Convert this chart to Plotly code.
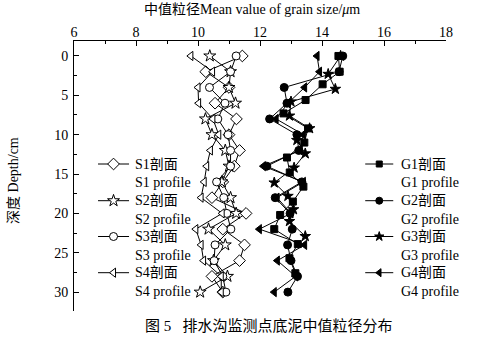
import plotly.graph_objects as go

# ---------------- data ----------------
depth_S = [0, 2, 4, 6, 8, 10, 12, 14, 16, 18, 20, 22, 24, 26, 28, 30]
S1 = [11.43, 10.25, 11.0, 10.55, 11.24, 11.0, 11.34, 11.17, 10.8, 10.45, 11.55, 10.8, 11.5, 11.34, 10.45, 10.8]
S2 = [10.38, 11.05, 11.0, 11.21, 10.24, 10.45, 10.88, 11.0, 10.77, 11.05, 11.23, 10.34, 10.88, 10.5, 10.95, 10.07]
S3 = [11.23, 11.05, 10.37, 10.87, 10.64, 10.97, 11.05, 11.05, 10.6, 10.83, 10.93, 11.06, 10.55, 10.52, 10.8, 10.9]
S4 = [9.77, 10.47, 10.0, 10.02, 10.48, 10.67, 10.4, 10.28, 10.2, 10.1, 10.78, 9.93, 10.1, 10.18, 10.75, 10.75]

depth_G1 = [0, 2, 3.6, 5.6, 7.3, 9.2, 11.0, 12.9, 14.8, 16.6, 18.5, 20.2, 22.0, 23.9, 25.7, 27.6]
G1 = [14.53, 14.57, 14.02, 13.47, 12.76, 13.55, 13.43, 12.87, 12.96, 13.4, 13.06, 12.65, 12.46, 13.22, 12.95, 13.14]
depth_G2 = [0, 2, 4, 6, 8, 10, 12, 14, 16, 18, 20, 22, 24, 26, 28, 30]
G2 = [14.67, 14.55, 12.78, 12.87, 12.31, 13.19, 13.25, 12.22, 13.35, 12.49, 12.97, 13.04, 12.89, 13.0, 13.21, 12.9]
depth_G3 = [0, 2.3, 4.2, 5.8, 7.6, 9.2, 10.7, 12.4, 14.2, 16.1, 17.8, 19.5, 21.0, 22.9]
G3 = [14.6, 14.2, 14.43, 13.0, 12.95, 13.6, 13.19, 13.46, 13.1, 12.46, 12.9, 13.08, 12.95, 13.46]
depth_G4 = [0, 2, 4, 6, 8, 10, 12, 14, 16, 18, 20, 22, 24, 26, 28, 30]
G4 = [13.84, 13.92, 13.44, 12.9, 12.52, 13.4, 13.3, 12.11, 13.4, 12.55, 13.0, 11.98, 13.44, 12.56, 13.15, 12.46]

x_ticks = [6, 8, 10, 12, 14, 16, 18]
y_ticks = [0, 5, 10, 15, 20, 25, 30]

# name, values, depths, symbol, fill, plot marker size, legend marker size
series = [
    ("S1", S1, depth_S, "diamond", "white", 9, 9),
    ("S2", S2, depth_S, "star", "white", 9, 9),
    ("S3", S3, depth_S, "circle", "white", 8, 8),
    ("S4", S4, depth_S, "triangle-left", "white", 8, 8),
    ("G1", G1, depth_G1, "square", "black", 7, 6),
    ("G2", G2, depth_G2, "circle", "black", 8, 7),
    ("G3", G3, depth_G3, "star", "black", 8, 7),
    ("G4", G4, depth_G4, "triangle-left", "black", 8, 7),
]

FONT = "Liberation Serif, Times New Roman, Noto Sans CJK SC, serif"
W, H = 483, 351
L, R, T, B = 74, 445.7, 41, 311   # plot area in pixels

fig = go.Figure()
for name, xs, ds, sym, fill, sz, lsz in series:
    fig.add_trace(go.Scatter(
        x=xs, y=ds, mode="lines+markers", name=name, showlegend=False,
        line=dict(color="black", width=1),
        marker=dict(symbol=sym, size=sz, color=fill, line=dict(color="black", width=1)),
        cliponaxis=False,
    ))

# ---- hand-made legends on an overlay pixel axis ----
leg_y = [164, 200.7, 236.5, 272.7]
left_leg = dict(x0=98, x1=129, xm=113.5, tx=133)
right_leg = dict(x0=365, x1=393, xm=379, tx=399)
for i, (name, xs, ds, sym, fill, sz, lsz) in enumerate(series):
    lg = left_leg if i < 4 else right_leg
    yy = leg_y[i % 4]
    fig.add_trace(go.Scatter(
        x=[lg["x0"], lg["xm"], lg["x1"]], y=[yy, yy, yy], mode="lines",
        line=dict(color="black", width=1), xaxis="x2", yaxis="y2", showlegend=False,
    ))
    fig.add_trace(go.Scatter(
        x=[lg["xm"]], y=[yy], mode="markers", xaxis="x2", yaxis="y2", showlegend=False,
        marker=dict(symbol=sym, size=lsz, color=fill, line=dict(color="black", width=1)),
    ))
    for txt, ty in ((f"{name}剖面", yy), (f"{name} profile", yy + 18.5)):
        fig.add_annotation(x=lg["tx"], y=ty, xref="x2", yref="y2", text=txt, showarrow=False,
                           xanchor="left", yanchor="middle", font=dict(size=14, color="black", family=FONT))

def px(xp):
    return (xp - L) / (R - L)

def py(yp):
    return (B - yp) / (B - T)

fig.add_annotation(x=px(252), y=py(10), xref="paper", yref="paper",
                   text="中值粒径Mean value of grain size/<i>μ</i>m", showarrow=False,
                   xanchor="center", yanchor="middle", font=dict(size=14, color="black", family=FONT))
fig.add_annotation(x=px(13), y=py(180), xref="paper", yref="paper",
                   text="深度 Depth/cm", showarrow=False, textangle=-90,
                   xanchor="center", yanchor="middle", font=dict(size=14, color="black", family=FONT))
fig.add_annotation(x=px(269), y=py(326), xref="paper", yref="paper",
                   text="图 5   排水沟监测点底泥中值粒径分布", showarrow=False,
                   xanchor="center", yanchor="middle", font=dict(size=15, color="black", family=FONT))

axis_common = dict(showgrid=False, zeroline=False, showline=True, linecolor="black", linewidth=1,
                   ticks="inside", ticklen=5, tickwidth=1, tickcolor="black", mirror=False,
                   tickfont=dict(size=14, color="black", family=FONT))
fig.update_layout(
    width=W, height=H,
    margin=dict(l=L, r=W - R, t=T, b=H - B),
    paper_bgcolor="white", plot_bgcolor="white",
    xaxis=dict(range=[6, 18], side="top", tickvals=x_ticks, ticklabelstandoff=-3,
               minor=dict(dtick=1, ticks="inside", ticklen=3, tickcolor="black"), **axis_common),
    yaxis=dict(range=[32.4, -1.9], tickvals=y_ticks, ticklabelstandoff=2,
               minor=dict(tick0=2.5, dtick=5, ticks="inside", ticklen=3, tickcolor="black"), **axis_common),
    xaxis2=dict(range=[L, R], overlaying="x", visible=False, fixedrange=True),
    yaxis2=dict(range=[B, T], overlaying="y", visible=False, fixedrange=True),
    font=dict(family=FONT, color="black"),
)

fig.write_html("out.html")
